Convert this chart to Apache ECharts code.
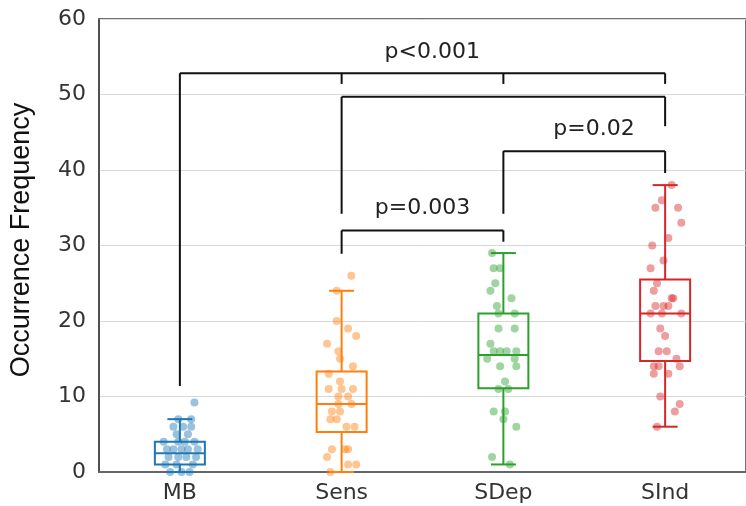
<!DOCTYPE html>
<html>
<head>
<meta charset="utf-8">
<script src="https://cdn.jsdelivr.net/npm/echarts@6/dist/echarts.min.js"></script>
<style>
  html, body { margin: 0; padding: 0; background: #fff; }
  #chart { width: 746px; height: 506px; }
</style>
</head>
<body>
<div id="chart"></div>
<script>
const categories = ['MB', 'Sens', 'SDep', 'SInd'];
const colors = ['#1f77b4', '#ff7f0e', '#2ca02c', '#d62728'];
const yTicks = [0, 10, 20, 30, 40, 50, 60];

// box stats: [min, q1, median, q3, max]
const boxStats = [
  [0, 1, 2.5, 4, 7],
  [0, 5.3, 9, 13.3, 24],
  [1, 11.1, 15.5, 21, 29],
  [6, 14.7, 21, 25.5, 38]
];

// point values and their horizontal jitter (category units)
const mbVals = [9.2, 7, 7, 6, 6, 6, 5, 5, 4, 4, 4, 4, 3, 3, 3, 3, 3, 2, 2, 2, 2, 1, 1, 1, 0, 0, 0];
const mbJit = [.09, -.01, .07, -.04, .02, .07, -.02, .05, -.10, -.01, .09, .03, -.08, -.04, .01, .05, .11, -.07, .04, .10, -.01, -.09, -.02, .08, -.06, .01, .06];
const sensVals = [26, 24, 20, 19, 18, 17, 16, 15, 14, 13, 12, 11, 11, 11, 10, 10, 9, 9, 8, 8, 7, 7, 6, 6, 3, 3, 3, 2, 1, 1, 0];
const sensJit = [.06, -.03, -.03, .04, .09, -.09, -.02, -.01, .07, -.08, -.01, -.08, .00, .07, -.02, .04, -.02, .06, -.06, -.01, -.07, -.03, .03, .08, -.06, .02, .04, -.09, .04, .09, -.07];
const sdepVals = [29, 27, 27, 25, 24, 23, 22, 21, 21, 19, 19, 17, 16, 16, 16, 16, 15, 15, 14, 14, 12, 11, 11, 8, 8, 7, 6, 2, 1];
const sdepJit = [-.07, -.06, -.02, -.05, -.08, .05, -.04, -.03, .07, -.03, .07, -.08, -.06, -.02, .02, .08, -.10, .07, -.02, .08, .01, -.03, .03, -.06, .01, .00, .08, -.07, .04];
const sindVals = [38, 36, 35, 35, 33, 31, 30, 28, 27, 25, 24, 23, 23, 22, 22, 22, 21, 21, 21, 19, 18, 16, 16, 15, 14, 14, 14, 13, 13, 10, 9, 8, 6];
const sindJit = [.04, -.02, -.06, .08, .10, .02, -.08, -.01, -.09, -.05, -.07, .04, .05, .02, -.06, -.01, -.09, -.02, .10, -.03, .00, -.04, .01, .07, .09, -.07, -.04, -.07, .02, -.03, .09, .06, -.05];

// significance bracket segments: [x1, y1, x2, y2] in axis units
const bracketSegs = [
  [0, 52.8, 3, 52.8], [0, 52.8, 0, 11.4], [1, 52.8, 1, 51.4], [2, 52.8, 2, 51.4], [3, 52.8, 3, 51.4],
  [1, 49.7, 3, 49.7], [1, 49.7, 1, 34.2], [3, 49.7, 3, 45.8],
  [2, 42.5, 3, 42.5], [2, 42.5, 2, 34.2], [3, 42.5, 3, 39.6],
  [1, 32.0, 2, 32.0], [1, 32.0, 1, 28.9], [2, 32.0, 2, 30.5]
];
const pLabels = ['p<0.001', 'p=0.02', 'p=0.003'];
const pLabelPos = [[1.56, 55.6], [2.56, 45.4], [1.5, 34.9]];

const allVals = [mbVals, sensVals, sdepVals, sindVals];
const allJit = [mbJit, sensJit, sdepJit, sindJit];

const chart = echarts.init(document.getElementById('chart'), null, { renderer: 'canvas' });

const boxSeries = {
  type: 'custom',
  xAxisIndex: 0,
  yAxisIndex: 0,
  z: 2,
  data: boxStats.map((s, i) => [i].concat(s)),
  encode: { x: 0, y: [1, 2, 3, 4, 5] },
  renderItem: function (params, api) {
    const i = api.value(0);
    const c = colors[params.dataIndex];
    const pMin = api.coord([i, api.value(1)]);
    const pQ1 = api.coord([i, api.value(2)]);
    const pMed = api.coord([i, api.value(3)]);
    const pQ3 = api.coord([i, api.value(4)]);
    const pMax = api.coord([i, api.value(5)]);
    const hw = 25, cw = 12.5;
    const st = { stroke: c, lineWidth: 2, fill: null };
    const x = pMed[0];
    return {
      type: 'group',
      children: [
        { type: 'rect', shape: { x: x - hw, y: pQ3[1], width: hw * 2, height: pQ1[1] - pQ3[1] }, style: st },
        { type: 'line', shape: { x1: x - hw, y1: pMed[1], x2: x + hw, y2: pMed[1] }, style: st },
        { type: 'line', shape: { x1: x, y1: pQ3[1], x2: x, y2: pMax[1] }, style: st },
        { type: 'line', shape: { x1: x, y1: pQ1[1], x2: x, y2: pMin[1] }, style: st },
        { type: 'line', shape: { x1: x - cw, y1: pMax[1], x2: x + cw, y2: pMax[1] }, style: st },
        { type: 'line', shape: { x1: x - cw, y1: pMin[1], x2: x + cw, y2: pMin[1] }, style: st }
      ]
    };
  }
};

const pointSeries = allVals.map((vals, g) => ({
  type: 'scatter',
  xAxisIndex: 1,
  yAxisIndex: 0,
  z: 3,
  symbolSize: 8,
  itemStyle: { color: colors[g], opacity: 0.45 },
  data: vals.map((v, k) => [g + allJit[g][k], v])
}));

const bracketSeries = {
  type: 'custom',
  xAxisIndex: 1,
  yAxisIndex: 0,
  z: 4,
  data: bracketSegs,
  encode: { x: [0, 2], y: [1, 3] },
  renderItem: function (params, api) {
    const a = api.coord([api.value(0), api.value(1)]);
    const b = api.coord([api.value(2), api.value(3)]);
    return {
      type: 'line',
      shape: { x1: a[0], y1: a[1], x2: b[0], y2: b[1] },
      style: { stroke: '#111', lineWidth: 2 }
    };
  }
};

const textSeries = {
  type: 'custom',
  xAxisIndex: 1,
  yAxisIndex: 0,
  z: 5,
  data: pLabelPos.map((p, k) => [p[0], p[1], k]),
  renderItem: function (params, api) {
    const p = api.coord([api.value(0), api.value(1)]);
    return {
      type: 'text',
      x: p[0],
      y: p[1],
      style: {
        text: pLabels[api.value(2)],
        fill: '#222',
        font: '22px "DejaVu Sans"',
        align: 'center',
        verticalAlign: 'middle'
      }
    };
  }
};

const option = {
  animation: false,
  backgroundColor: '#fff',
  grid: {
    left: 98, top: 19, width: 652, height: 453,
    show: true, borderColor: '#444', borderWidth: 1.5, backgroundColor: 'transparent'
  },
  xAxis: [{
    type: 'category',
    data: categories,
    axisLine: { lineStyle: { color: '#666', width: 2 } },
    axisTick: { show: false },
    axisLabel: { color: '#333', fontSize: 22, fontFamily: 'DejaVu Sans', margin: 10 },
    splitLine: { show: false }
  }, {
    type: 'value',
    min: -0.5,
    max: 3.5,
    show: false
  }],
  yAxis: {
    type: 'value',
    min: yTicks[0],
    max: yTicks[yTicks.length - 1],
    interval: 10,
    name: 'Occurrence Frequency',
    nameLocation: 'middle',
    nameGap: 64,
    nameTextStyle: { color: '#111', fontSize: 27, fontFamily: 'Liberation Sans', padding: [0, 0, 0, 11] },
    axisLine: { show: true, onZero: false, lineStyle: { color: '#444', width: 1.5 } },
    axisTick: { show: false },
    axisLabel: { color: '#333', fontSize: 22, fontFamily: 'DejaVu Sans', margin: 13 },
    splitLine: { lineStyle: { color: '#d8d8d8', width: 1 } }
  },
  series: [boxSeries].concat(pointSeries, [bracketSeries, textSeries])
};

chart.setOption(option);
</script>
</body>
</html>
